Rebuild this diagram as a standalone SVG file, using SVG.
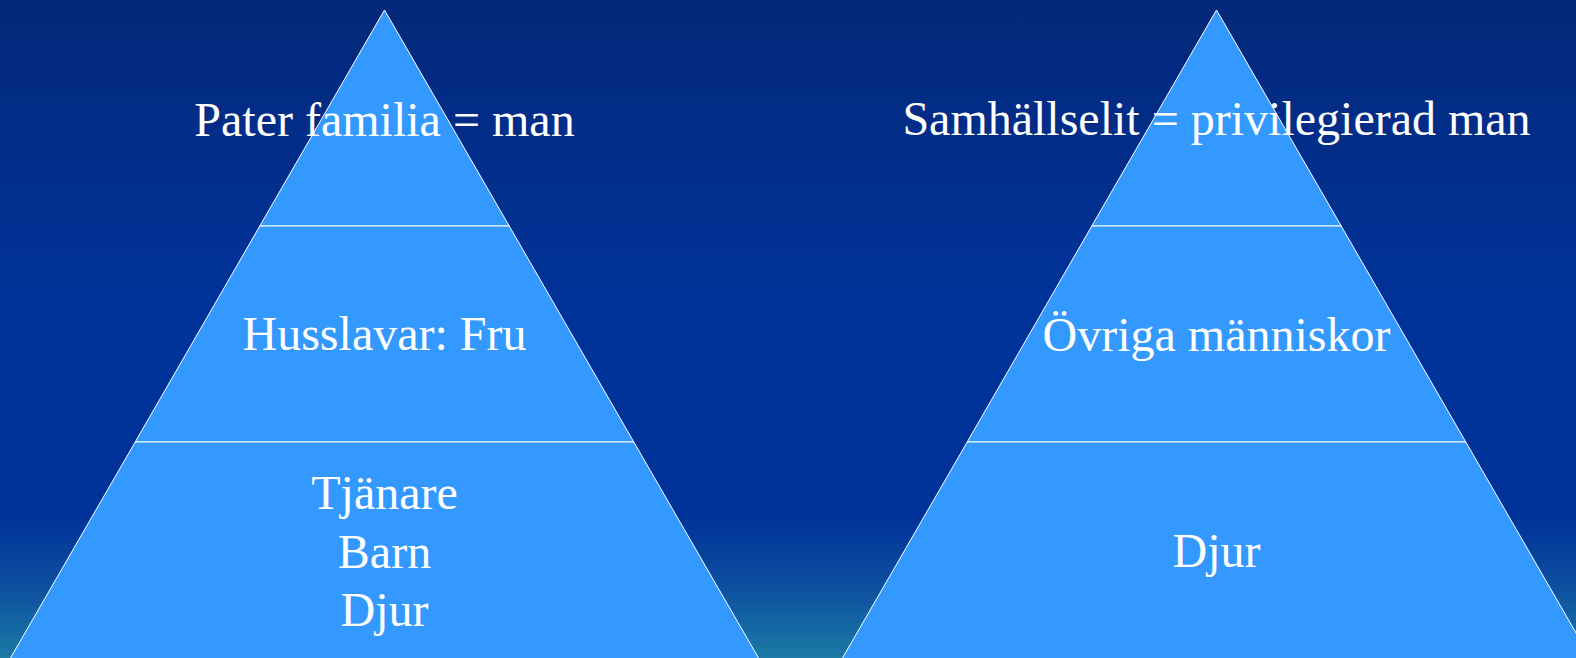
<svg xmlns="http://www.w3.org/2000/svg" width="1576" height="658" viewBox="0 0 1576 658">
  <defs>
    <linearGradient id="bg" x1="0" y1="0" x2="0" y2="1">
      <stop offset="0" stop-color="#04287a"/>
      <stop offset="0.45" stop-color="#003399"/>
      <stop offset="0.78" stop-color="#003399"/>
      <stop offset="0.88" stop-color="#0c4b9e"/>
      <stop offset="1" stop-color="#1b7aa6"/>
    </linearGradient>
  </defs>
  <style>
    .lvl { fill: #3399ff; stroke: #ffffff; stroke-width: 1; stroke-linejoin: miter; }
    .lbl { font-family: "Liberation Serif", "Times New Roman", serif; font-size: 48px; fill: #ffffff; text-anchor: middle; }
  </style>
  <rect x="0" y="0" width="1576" height="658" fill="url(#bg)"/>

  <g id="pyramid-left">
    <g id="left-top">
      <polygon class="lvl" points="384.5,10 509.2,226 259.8,226"/>
    </g>
    <g id="left-middle">
      <polygon class="lvl" points="259.8,226 509.2,226 633.8,442 135.2,442"/>
    </g>
    <g id="left-bottom">
      <polygon class="lvl" points="135.2,442 633.8,442 760.8,662 8.2,662"/>
    </g>
  </g>

  <g id="pyramid-right">
    <g id="right-top">
      <polygon class="lvl" points="1216.5,10 1341.2,226 1091.8,226"/>
    </g>
    <g id="right-middle">
      <polygon class="lvl" points="1091.8,226 1341.2,226 1465.8,442 967.2,442"/>
    </g>
    <g id="right-bottom">
      <polygon class="lvl" points="967.2,442 1465.8,442 1592.8,662 840.2,662"/>
    </g>
  </g>

  <g id="connectors"></g>

  <g id="labels">
    <text class="lbl" x="384.5" y="136">Pater familia = man</text>
    <text class="lbl" x="384.5" y="350">Husslavar: Fru</text>
    <text class="lbl" x="384.5" y="509">Tjänare</text>
    <text class="lbl" x="384.5" y="568">Barn</text>
    <text class="lbl" x="384.5" y="626">Djur</text>
    <text class="lbl" x="1216.5" y="135">Samhällselit = privilegierad man</text>
    <text class="lbl" x="1216.5" y="351">Övriga människor</text>
    <text class="lbl" x="1216.5" y="567">Djur</text>
  </g>
</svg>
